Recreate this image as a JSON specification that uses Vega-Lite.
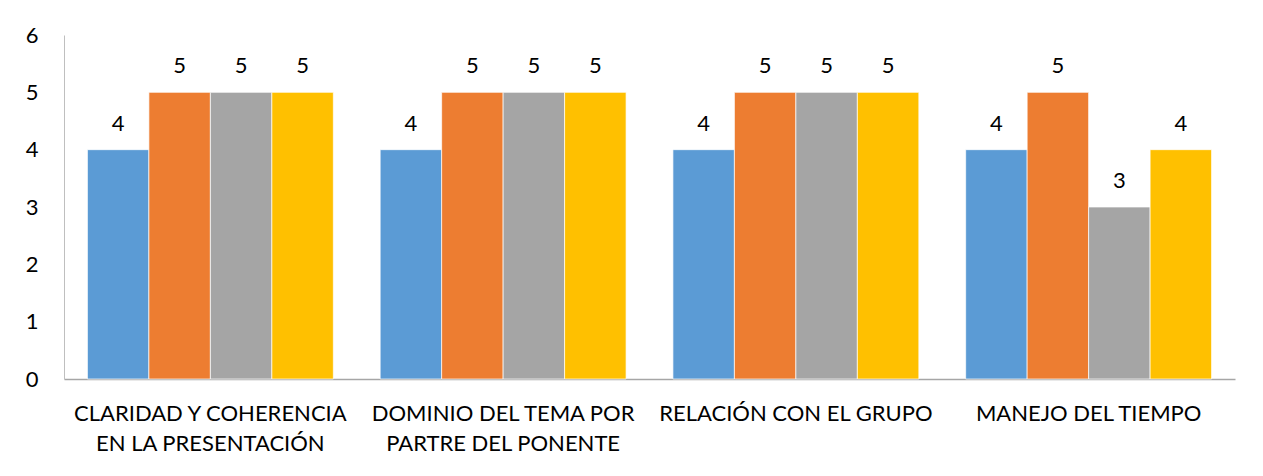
{
  "$schema": "https://vega.github.io/schema/vega-lite/v6.json",
  "width": 1171,
  "height": 344,
  "autosize": "none",
  "padding": {"left": 64, "top": 35, "right": 28, "bottom": 97},
  "background": "white",
  "config": {
    "view": {"stroke": null},
    "font": "Lato",
    "axis": {"labelFont": "Lato", "labelColor": "#000000", "labelFontSize": 22, "labelLimit": 0, "grid": false, "ticks": false, "domainColor": "#a6a6a6", "domainWidth": 1.3, "title": null}
  },
  "data": {
    "values": [
      {"categoria": "CLARIDAD Y COHERENCIA|EN LA PRESENTACIÓN", "serie": "Serie 1", "valor": 4},
      {"categoria": "CLARIDAD Y COHERENCIA|EN LA PRESENTACIÓN", "serie": "Serie 2", "valor": 5},
      {"categoria": "CLARIDAD Y COHERENCIA|EN LA PRESENTACIÓN", "serie": "Serie 3", "valor": 5},
      {"categoria": "CLARIDAD Y COHERENCIA|EN LA PRESENTACIÓN", "serie": "Serie 4", "valor": 5},
      {"categoria": "DOMINIO DEL TEMA POR|PARTRE DEL PONENTE", "serie": "Serie 1", "valor": 4},
      {"categoria": "DOMINIO DEL TEMA POR|PARTRE DEL PONENTE", "serie": "Serie 2", "valor": 5},
      {"categoria": "DOMINIO DEL TEMA POR|PARTRE DEL PONENTE", "serie": "Serie 3", "valor": 5},
      {"categoria": "DOMINIO DEL TEMA POR|PARTRE DEL PONENTE", "serie": "Serie 4", "valor": 5},
      {"categoria": "RELACIÓN CON EL GRUPO", "serie": "Serie 1", "valor": 4},
      {"categoria": "RELACIÓN CON EL GRUPO", "serie": "Serie 2", "valor": 5},
      {"categoria": "RELACIÓN CON EL GRUPO", "serie": "Serie 3", "valor": 5},
      {"categoria": "RELACIÓN CON EL GRUPO", "serie": "Serie 4", "valor": 5},
      {"categoria": "MANEJO DEL TIEMPO", "serie": "Serie 1", "valor": 4},
      {"categoria": "MANEJO DEL TIEMPO", "serie": "Serie 2", "valor": 5},
      {"categoria": "MANEJO DEL TIEMPO", "serie": "Serie 3", "valor": 3},
      {"categoria": "MANEJO DEL TIEMPO", "serie": "Serie 4", "valor": 4}
    ]
  },
  "encoding": {
    "x": {
      "field": "categoria", "type": "nominal", "sort": null,
      "scale": {"paddingInner": 0.16, "paddingOuter": 0.08},
      "axis": {"labelAngle": 0, "labelExpr": "split(datum.label, '|')", "labelPadding": 24, "labelLineHeight": 30, "labelBaseline": "top"}
    },
    "xOffset": {"field": "serie", "type": "nominal", "scale": {"paddingInner": 0, "paddingOuter": 0}},
    "y": {
      "field": "valor", "type": "quantitative",
      "scale": {"domain": [0, 6], "nice": false},
      "axis": {"values": [0, 1, 2, 3, 4, 5, 6], "labelPadding": 26, "domainColor": "#bfbfbf", "domainWidth": 1}
    }
  },
  "layer": [
    {
      "mark": {"type": "bar", "stroke": "white", "strokeWidth": 0.7},
      "encoding": {
        "color": {
          "field": "serie", "type": "nominal", "legend": null,
          "scale": {"range": ["#5B9BD5", "#ED7D31", "#A5A5A5", "#FFC000"]}
        }
      }
    },
    {
      "mark": {"type": "text", "baseline": "alphabetic", "dy": -19, "fontSize": 22, "font": "Lato", "color": "#000000"},
      "encoding": {"text": {"field": "valor", "type": "quantitative"}}
    }
  ]
}
